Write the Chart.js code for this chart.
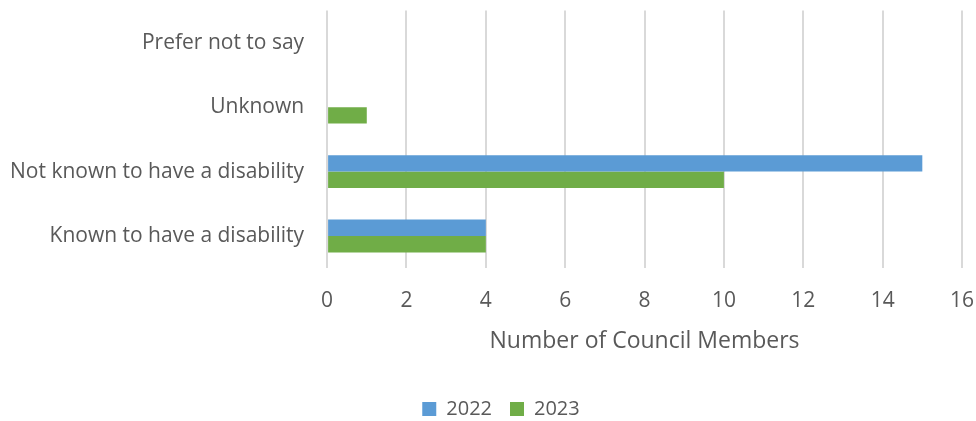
<!DOCTYPE html>
<html>
<head>
<meta charset="utf-8">
<script src="https://cdn.jsdelivr.net/npm/chart.js@4/dist/chart.umd.min.js"></script>
<style>
  html, body { margin: 0; padding: 0; background: #fff; }
  #wrap { width: 976px; height: 421px; }
</style>
</head>
<body>
<div id="wrap"><canvas id="chart"></canvas></div>
<script>
const categories = ['Prefer not to say', 'Unknown', 'Not known to have a disability', 'Known to have a disability'];
const values2022 = [0, 0, 15, 4];
const values2023 = [0, 1, 10, 4];
const seriesNames = ['2022', '2023'];

const textColor = '#595959';
const gridColor = '#d9d9d9';
const fontFamily = "'Open Sans', 'Noto Sans', sans-serif";

// the original legend is centred a bit right of the page middle
const legendShift = {
    id: 'legendShift',
    afterLayout(chart) {
        chart.legend.left += 30;
    }
};

const config = {
    type: 'bar',
    data: {
        labels: categories,
        datasets: [
            {
                label: seriesNames[0],
                data: values2022,
                backgroundColor: '#5b9bd5',
                borderWidth: 0,
                categoryPercentage: 0.51,
                barPercentage: 1.0
            },
            {
                label: seriesNames[1],
                data: values2023,
                backgroundColor: '#70ad47',
                borderWidth: 0,
                categoryPercentage: 0.51,
                barPercentage: 1.0
            }
        ]
    },
    options: {
        indexAxis: 'y',
        responsive: true,
        maintainAspectRatio: false,
        animation: false,
        layout: {
            // bottom is negative so the legend row sits lower, like the original
            padding: { top: 10, right: 14, bottom: -8, left: 10 }
        },
        plugins: {
            legend: {
                position: 'bottom',
                labels: {
                    color: textColor,
                    font: { family: fontFamily, size: 20 },
                    boxWidth: 14,
                    boxHeight: 14,
                    padding: 18
                }
            },
            tooltip: { enabled: false }
        },
        scales: {
            x: {
                min: 0,
                max: 16,
                ticks: {
                    stepSize: 2,
                    color: textColor,
                    font: { family: fontFamily, size: 21 },
                    padding: 0
                },
                grid: {
                    color: gridColor,
                    lineWidth: 2,
                    drawTicks: true,
                    tickLength: 20,
                    tickColor: 'rgba(0,0,0,0)'
                },
                border: { display: false },
                title: {
                    display: true,
                    text: 'Number of Council Members',
                    color: textColor,
                    font: { family: fontFamily, size: 23 },
                    padding: { top: 14, bottom: 26 }
                }
            },
            y: {
                ticks: {
                    color: textColor,
                    font: { family: fontFamily, size: 21, lineHeight: 1 },
                    padding: 0
                },
                grid: {
                    color: 'rgba(0,0,0,0)',
                    drawOnChartArea: false,
                    drawTicks: true,
                    tickLength: 23,
                    tickColor: 'rgba(0,0,0,0)'
                },
                border: { display: false }
            }
        }
    },
    plugins: [legendShift]
};

const chart = new Chart(document.getElementById('chart'), config);
</script>
</body>
</html>
